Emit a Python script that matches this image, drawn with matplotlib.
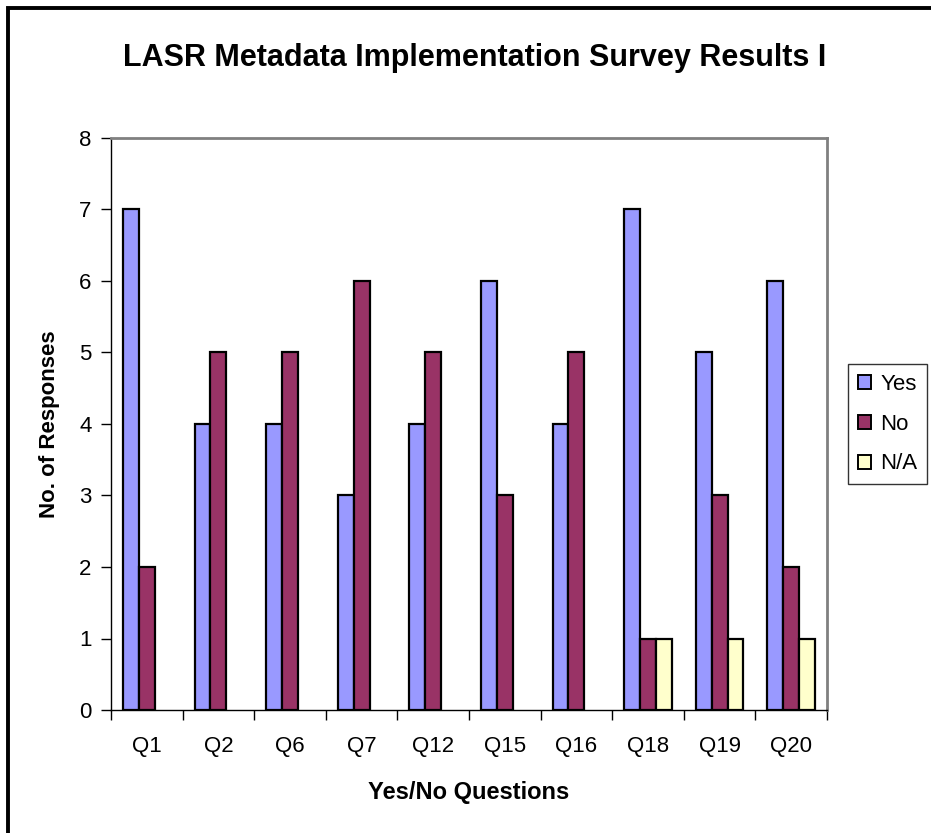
import matplotlib
matplotlib.use("Agg")
import matplotlib.pyplot as plt
import numpy as np
from matplotlib.patches import Rectangle, Patch

plt.rcParams['font.family'] = ['Liberation Sans', 'DejaVu Sans']

questions = ["Q1", "Q2", "Q6", "Q7", "Q12", "Q15", "Q16", "Q18", "Q19", "Q20"]
yes = [7, 4, 4, 3, 4, 6, 4, 7, 5, 6]
no = [2, 5, 5, 6, 5, 3, 5, 1, 3, 2]
na = [0, 0, 0, 0, 0, 0, 0, 1, 1, 1]

series = [("Yes", yes, "#9999FF"), ("No", no, "#993366"), ("N/A", na, "#FFFFCC")]

fig = plt.figure(figsize=(9.31, 8.33), dpi=100)
# outer chart frame (only top/left visible in the reference)
fig.patches.append(Rectangle((8 / 931, -0.1), 1.2, 1 - 8 / 833 + 0.1,
                             transform=fig.transFigure, fill=False,
                             edgecolor="black", linewidth=2.8))

ax = fig.add_axes([111 / 931, 1 - 710 / 833, (827 - 111) / 931, (710 - 138) / 833])

x = np.arange(len(questions))
w = 1 / 4.5
handles = []
for i, (name, vals, col) in enumerate(series):
    # zero-height bars are not outlined in the original
    edges = ["black" if v else "none" for v in vals]
    ax.bar(x + (i - 1) * w, vals, width=w, color=col, edgecolor=edges,
           linewidth=1.6, zorder=3)
    handles.append(Patch(facecolor=col, edgecolor="black", linewidth=1.4, label=name))

ax.set_xlim(-0.5, len(questions) - 0.5)
ax.set_ylim(0, 8)
ax.set_yticks(range(9))
ax.set_xticks(x)
ax.set_xticklabels(questions)
ax.set_xticks(np.arange(-0.5, len(questions), 1), minor=True)
ax.tick_params(axis="x", which="major", length=0, pad=19, labelsize=16)
ax.tick_params(axis="x", which="minor", length=7, width=1, direction="out")
ax.tick_params(axis="y", length=7, width=1, direction="out", labelsize=16, pad=7)

for s in ["top", "right"]:
    ax.spines[s].set_color("#808080")
    ax.spines[s].set_linewidth(2)
for s in ["left", "bottom"]:
    ax.spines[s].set_color("black")
    ax.spines[s].set_linewidth(1)

ax.set_xlabel("Yes/No Questions", fontsize=17, fontweight="bold", labelpad=17)
ax.set_ylabel("No. of Responses", fontsize=16, fontweight="bold", labelpad=14)
fig.text(475 / 931, 1 - 58 / 833, "LASR Metadata Implementation Survey Results I",
         ha="center", va="center", fontsize=22, fontweight="bold")

leg = ax.legend(handles=handles, loc="center left",
                bbox_to_anchor=(848 / 931, 1 - 424 / 833),
                bbox_transform=fig.transFigure, frameon=True, fancybox=False,
                fontsize=16, handlelength=0.6, handleheight=0.6,
                handletextpad=0.4, labelspacing=0.85, borderpad=0.45,
                borderaxespad=0)
leg.get_frame().set_edgecolor("black")
leg.get_frame().set_linewidth(1)

fig.savefig("out.png", dpi=100, facecolor="white")
